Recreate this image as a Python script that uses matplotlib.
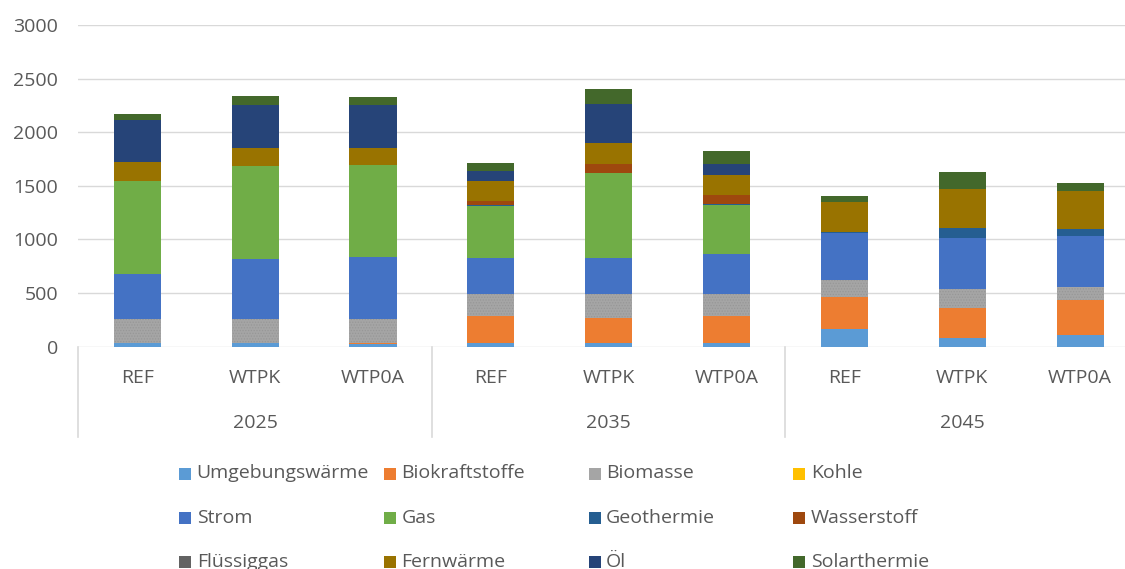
import numpy as np
import matplotlib.pyplot as plt
from matplotlib.patches import Rectangle

plt.rcParams['font.family'] = ['Open Sans', 'DejaVu Sans']
plt.rcParams['hatch.linewidth'] = 0.6

# Daten
jahre = ["2025", "2035", "2045"]
szenarien = ["REF", "WTPK", "WTP0A"]

traeger = ["Umgebungswärme", "Biokraftstoffe", "Biomasse", "Kohle",
           "Strom", "Gas", "Geothermie", "Wasserstoff",
           "Flüssiggas", "Fernwärme", "Öl", "Solarthermie"]

farben = ["#5B9BD5", "#ED7D31", "#A5A5A5", "#FFC000",
          "#4472C4", "#70AD47", "#255E91", "#9E480E",
          "#636363", "#997300", "#264478", "#43682B"]

# Werte je Balken: 2025 REF, WTPK, WTP0A, 2035 REF, WTPK, WTP0A, 2045 REF, WTPK, WTP0A
umgebungswaerme = [38, 38, 25, 38, 38, 38, 162, 84, 109]
biokraftstoffe = [0, 0, 12, 244, 234, 244, 306, 281, 325]
biomasse = [219, 219, 219, 210, 219, 210, 150, 175, 125]
kohle = [0, 0, 0, 0, 0, 0, 0, 0, 0]
strom = [425, 563, 578, 337, 337, 375, 444, 478, 472]
gas = [860, 862, 860, 481, 794, 456, 0, 0, 0]
geothermie = [0, 0, 0, 13, 0, 9, 8, 91, 69]
wasserstoff = [0, 0, 0, 34, 81, 82, 0, 0, 0]
fluessiggas = [0, 0, 0, 0, 0, 0, 0, 0, 0]
fernwaerme = [178, 175, 162, 185, 200, 187, 281, 363, 350]
oel = [397, 400, 400, 93, 363, 103, 0, 0, 0]
solarthermie = [56, 83, 74, 82, 137, 122, 56, 153, 81]

werte = [umgebungswaerme, biokraftstoffe, biomasse, kohle, strom, gas,
         geothermie, wasserstoff, fluessiggas, fernwaerme, oel, solarthermie]

text_farbe = "#595959"
grid_farbe = "#D9D9D9"

W, H = 1125, 569
fig = plt.figure(figsize=(W / 100, H / 100), dpi=100)
ax = fig.add_axes([78.3 / W, (H - 346.7) / H, (1139 - 78.3) / W, (346.7 - 25) / H])

x = np.arange(len(jahre) * len(szenarien))
bottom = np.zeros(len(x))
for name, farbe, vals in zip(traeger, farben, werte):
    vals = np.array(vals, dtype=float)
    if name == "Biomasse":
        ax.bar(x, vals, 0.4, bottom=bottom, color=farbe, edgecolor="#979797",
               hatch="......", linewidth=0)
    else:
        ax.bar(x, vals, 0.4, bottom=bottom, color=farbe, linewidth=0)
    bottom += vals

ax.set_xlim(-0.5, len(x) - 0.5)
ax.set_ylim(0, 3000)
ax.set_yticks(np.arange(0, 3001, 500))
ax.yaxis.grid(True, color=grid_farbe, linewidth=1.0)
ax.set_axisbelow(True)
for s in ax.spines.values():
    s.set_visible(False)
ax.tick_params(axis="y", length=0, pad=14.5, labelsize=14, labelcolor=text_farbe)
ax.set_xticks([])

# hierarchische x-Achse
trans = ax.get_xaxis_transform()
for i in range(len(x)):
    ax.text(x[i], -0.097, szenarien[i % 3], transform=trans, ha="center",
            va="center", fontsize=14, color=text_farbe)
for g, jahr in enumerate(jahre):
    ax.text(g * 3 + 1, -0.237, jahr, transform=trans, ha="center",
            va="center", fontsize=14, color=text_farbe)
for g in range(len(jahre) + 1):
    ax.plot([g * 3 - 0.5] * 2, [0, -0.28], transform=trans, color=grid_farbe,
            linewidth=1.2, clip_on=False)

# Legende
for i, (name, farbe) in enumerate(zip(traeger, farben)):
    col, row = i % 4, i // 4
    mx = 179.3 + col * 204.7
    my = 473.5 + row * 44.2
    rect = Rectangle((mx / W, (H - my - 6) / H), 12 / W, 12 / H,
                     transform=fig.transFigure, facecolor=farbe, linewidth=0)
    fig.add_artist(rect)
    fig.text((mx + 17.4) / W, (H - my) / H, name, ha="left", va="center",
             fontsize=14, color=text_farbe)

fig.savefig("out.png", dpi=100)
